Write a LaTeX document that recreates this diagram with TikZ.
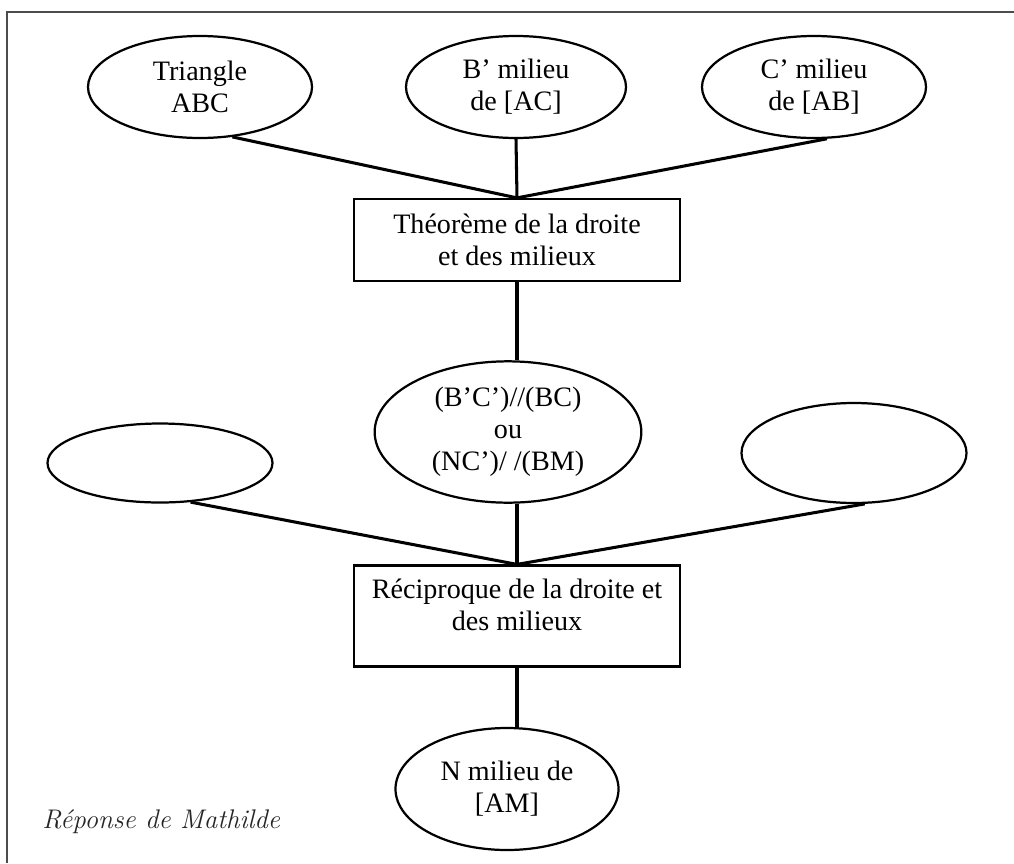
\documentclass[tikz,border=0pt]{standalone}
\usepackage{fontspec}
\setmainfont{Liberation Serif}
\usepackage{tikz}
\usetikzlibrary{shapes.geometric, positioning}

\begin{document}
\begin{tikzpicture}[
    x=0.015cm, y=-0.015cm,
    bulle/.style={draw, ellipse, line width=0.95pt, inner sep=0pt, align=center, font=\fontsize{12}{13.6}\selectfont},
    cadre/.style={draw, rectangle, line width=0.95pt, inner sep=0pt, minimum width=4.89cm, align=center, font=\fontsize{12}{13.6}\selectfont},
    lien/.style={line width=1.3pt}
]
    \useasboundingbox (0,0) rectangle (1014,863);
    \draw[black!70, line width=0.9pt] (1014,12) -- (7,12) -- (7,863);

    \node[bulle, minimum width=3.36cm, minimum height=1.53cm] (triangle) at (200,87) {Triangle\\ABC};
    \node[bulle, minimum width=3.3cm, minimum height=1.53cm] (bmilieu) at (516,87) {B’ milieu\\de [AC]};
    \node[bulle, minimum width=3.36cm, minimum height=1.53cm] (cmilieu) at (814,87) {C’ milieu\\de [AB]};

    \node[cadre, minimum height=1.23cm] (theoreme) at (517,240) {Théorème de la droite\\et des milieux};

    \node[bulle, minimum width=4.0cm, minimum height=2.12cm] (paral) at (508,432) {(B’C’)//(BC)\\ou\\(NC’)/ /(BM)};
    \node[bulle, minimum width=3.375cm, minimum height=1.185cm] (vide1) at (160,463) {};
    \node[bulle, minimum width=3.375cm, minimum height=1.5cm] (vide2) at (854,453) {};

    \node[cadre, minimum height=1.515cm] (reciproque) at (517,616) {};
    \node[below=0.21cm of reciproque.north, align=center, inner sep=0pt, font=\fontsize{12}{13.6}\selectfont] (recitexte) {Réciproque de la droite et\\des milieux};

    \node[bulle, minimum width=3.345cm, minimum height=1.83cm] (nmilieu) at (507,789) {N milieu de\\{[AM]}};

    \node[anchor=base west, inner sep=0pt, text=black!85, font=\fontfamily{lmr}\fontsize{11.5}{13}\selectfont\itshape] (legende) at (42,828) {Réponse de Mathilde};

    \draw[lien] (triangle.-57) -- (theoreme.north);
    \draw[lien] (bmilieu.south) -- (theoreme.north);
    \draw[lien] (cmilieu.-76) -- (theoreme.north);
    \draw[lien] (theoreme.south) -- (theoreme.south |- paral.north);
    \draw[lien] (vide1.-52) -- (reciproque.north);
    \draw[lien] (theoreme.south |- paral.south) -- (reciproque.north);
    \draw[lien] (vide2.-78) -- (reciproque.north);
    \draw[lien] (reciproque.south) -- (reciproque.south |- nmilieu.north);
\end{tikzpicture}
\end{document}
